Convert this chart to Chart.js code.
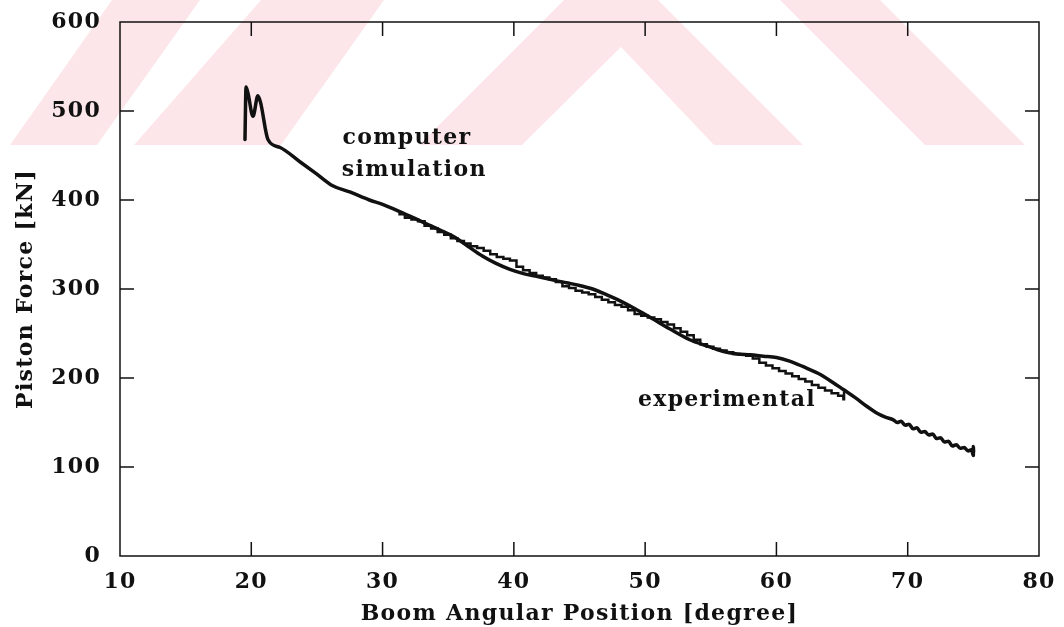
<!DOCTYPE html>
<html>
<head>
<meta charset="utf-8">
<script src="https://cdn.jsdelivr.net/npm/chart.js@4.4.0/dist/chart.umd.min.js"></script>
<style>
  html, body { margin: 0; padding: 0; background: #ffffff; }
  #wrap { width: 1064px; height: 627px; }
</style>
</head>
<body>
<div id="wrap"><canvas id="c" width="1064" height="627"></canvas></div>
<script>
// ---- data ----
const xTickValues = [10, 20, 30, 40, 50, 60, 70, 80];
const yTickValues = [0, 100, 200, 300, 400, 500, 600];

// computer simulation (boom angle [degree], piston force [kN])
const simAngle = [19.52, 19.6, 19.75, 20.13, 20.5, 20.7, 21.27, 22.2, 23.7, 25.0, 26.2, 27.5, 29.0, 30.0,
  31.3, 32.5, 33.8, 35.4, 36.5, 37.6, 38.6, 39.7, 40.8, 41.8, 43.0, 44.0, 45.0, 46.0, 47.0, 47.9,
  49.2, 50.4, 51.9, 53.4, 54.7, 55.9, 57.0, 58.0, 59.0, 60.0, 61.0, 62.0, 63.2, 64.3, 65.1, 66.0,
  66.9, 67.6, 68.3, 68.9, 69.2, 69.5, 69.8, 70.1, 70.4, 70.7, 71.0, 71.3, 71.6, 71.9, 72.2, 72.5,
  72.8, 73.1, 73.4, 73.7, 74.0, 74.3, 74.6, 74.85, 75.0, 75.0, 75.02];
const simForce = [468, 527, 520, 494, 517, 510, 468, 459, 443, 429, 416, 409, 400, 395,
  387, 379, 370, 359, 348, 337, 329, 322, 317, 314, 310, 307, 304, 300, 294, 288,
  278, 268, 255, 243, 236, 230, 227, 226, 224.5, 223, 219, 213, 205, 195, 187, 178,
  168, 161, 156, 153, 150, 151.5, 147, 148, 143, 144, 139, 140, 136, 137, 132, 133,
  128, 129, 123.5, 125, 121, 122, 118, 119.5, 113, 123, 117];

// experimental (boom angle [degree], piston force [kN])
const expAngle = [31.2, 31.7, 32.2, 32.7, 33.2, 33.7, 34.2, 34.7, 35.2, 35.7, 36.2, 36.7, 37.2, 37.7,
  38.2, 38.7, 39.2, 39.7, 40.2, 40.7, 41.2, 41.7, 42.2, 42.7, 43.2, 43.7, 44.2, 44.7, 45.2, 45.7,
  46.2, 46.7, 47.2, 47.7, 48.2, 48.7, 49.2, 49.7, 50.2, 50.7, 51.2, 51.7, 52.2, 52.7, 53.2, 53.7,
  54.2, 54.7, 55.2, 55.7, 56.2, 56.7, 57.2, 57.7, 58.2, 58.7, 59.2, 59.7, 60.2, 60.7, 61.2, 61.7,
  62.2, 62.7, 63.2, 63.7, 64.2, 64.7, 65.1, 65.15];
const expForce = [384, 380, 378, 376, 371, 368, 364, 361, 357, 354, 351, 348, 346, 343,
  339, 336, 334, 332, 325, 321, 318, 315, 313, 311, 308, 303, 301, 298, 296, 294,
  291, 288, 285, 282, 280, 276, 272, 270, 268, 266, 263, 260, 256, 252, 248, 243,
  238, 235, 233, 231, 229, 227, 226, 225, 222, 217, 214, 211, 208, 205, 202, 199,
  196, 192, 189, 186, 183, 180, 176, 185];

const xTitle = 'Boom Angular Position [degree]';
const yTitle = 'Piston Force [kN]';
const seriesLabels = ['computer simulation', 'experimental'];
// annotation anchors (data coordinates of text start / baseline)
const noteLines = [
  { text: 'computer', x: 26.95, y: 463 },
  { text: 'simulation', x: 26.9, y: 427 },
  { text: 'experimental', x: 49.45, y: 168 }
];

const FONT = "'DejaVu Serif', 'Liberation Serif', serif";
const FSIZE = 22;
const INK = '#111111';
const SPACING = '1.3px';
const WATERMARK = '#fde6ea';
// faint scanned watermark behind the top of the page (canvas pixels, decoration only)
const watermarkShapes = [
  [[112, 0], [200, 0], [97, 145], [10, 145]],
  [[261, 0], [384, 0], [281, 145], [134, 145]],
  [[419, 145], [564, 0], [658, 0], [803, 145], [714, 145], [621, 47], [522, 145]],
  [[780, 0], [880, 0], [1025, 145], [925, 145]]
];

const simData = simAngle.map((a, i) => ({ x: a, y: simForce[i] }));
const expData = expAngle.map((a, i) => ({ x: a, y: expForce[i] }));

const spacingPlugin = {
  id: 'spacing',
  beforeLayout(chart) { chart.ctx.letterSpacing = SPACING; },
  beforeDraw(chart) {
    const ctx = chart.ctx;
    ctx.letterSpacing = SPACING;
    ctx.save();
    ctx.fillStyle = WATERMARK;
    watermarkShapes.forEach(poly => {
      ctx.beginPath();
      poly.forEach((p, i) => i ? ctx.lineTo(p[0], p[1]) : ctx.moveTo(p[0], p[1]));
      ctx.closePath();
      ctx.fill();
    });
    ctx.restore();
  }
};

const framePlugin = {
  id: 'frame',
  afterDatasetsDraw(chart) {
    const { ctx, chartArea: a, scales } = chart;
    const xs = scales.x, ys = scales.y;
    ctx.save();
    ctx.strokeStyle = INK;
    ctx.lineWidth = 1.5;
    ctx.strokeRect(a.left, a.top, a.right - a.left, a.bottom - a.top);
    const tl = 14;
    ctx.beginPath();
    xs.ticks.forEach(t => {
      if (t.value <= xs.min || t.value >= xs.max) return;
      const px = xs.getPixelForValue(t.value);
      ctx.moveTo(px, a.bottom); ctx.lineTo(px, a.bottom - tl);
      ctx.moveTo(px, a.top); ctx.lineTo(px, a.top + tl);
    });
    ys.ticks.forEach(t => {
      if (t.value <= ys.min || t.value >= ys.max) return;
      const py = ys.getPixelForValue(t.value);
      ctx.moveTo(a.left, py); ctx.lineTo(a.left + tl, py);
      ctx.moveTo(a.right, py); ctx.lineTo(a.right - tl, py);
    });
    ctx.stroke();
    // annotations placed through the scales
    ctx.fillStyle = INK;
    ctx.font = 'bold ' + FSIZE + 'px ' + FONT;
    ctx.textAlign = 'left';
    ctx.textBaseline = 'alphabetic';
    noteLines.forEach(n => {
      ctx.fillText(n.text, xs.getPixelForValue(n.x), ys.getPixelForValue(n.y));
    });
    ctx.restore();
  }
};

new Chart(document.getElementById('c'), {
  type: 'scatter',
  data: {
    datasets: [
      {
        label: seriesLabels[0],
        data: simData,
        showLine: true,
        borderColor: INK,
        borderWidth: 3.5,
        pointRadius: 0,
        cubicInterpolationMode: 'monotone',
        borderJoinStyle: 'round',
        borderCapStyle: 'round'
      },
      {
        label: seriesLabels[1],
        data: expData,
        showLine: true,
        stepped: true,
        borderColor: INK,
        borderWidth: 2.5,
        pointRadius: 0,
        borderJoinStyle: 'miter'
      }
    ]
  },
  options: {
    responsive: false,
    animation: false,
    devicePixelRatio: 1,
    layout: { padding: { left: 0, top: 22, right: 25, bottom: 0 } },
    plugins: {
      legend: { display: false },
      tooltip: { enabled: false },
      title: { display: false }
    },
    scales: {
      x: {
        type: 'linear',
        min: 10, max: 80,
        afterBuildTicks: s => { s.ticks = xTickValues.map(v => ({ value: v })); },
        ticks: { color: INK, font: { family: FONT, size: FSIZE, weight: 'bold' }, padding: 13, maxRotation: 0 },
        grid: { display: false, drawTicks: false },
        border: { display: false },
        title: { display: true, text: xTitle, color: INK, font: { family: FONT, size: FSIZE, weight: 'bold' }, padding: { top: 0, bottom: 0 } },
        afterFit: s => { s.height = 71; s.paddingLeft = 0; s.paddingRight = 0; }
      },
      y: {
        type: 'linear',
        min: 0, max: 600,
        afterBuildTicks: s => { s.ticks = yTickValues.map(v => ({ value: v })); },
        ticks: { color: INK, font: { family: FONT, size: FSIZE, weight: 'bold' }, padding: 19 },
        grid: { display: false, drawTicks: false },
        border: { display: false },
        title: { display: true, text: yTitle, color: INK, font: { family: FONT, size: FSIZE, weight: 'bold' }, padding: { top: 13, bottom: 0 } },
        afterFit: s => { s.width = 120; s.paddingTop = 0; s.paddingBottom = 0; }
      }
    }
  },
  plugins: [spacingPlugin, framePlugin]
});
</script>
</body>
</html>
